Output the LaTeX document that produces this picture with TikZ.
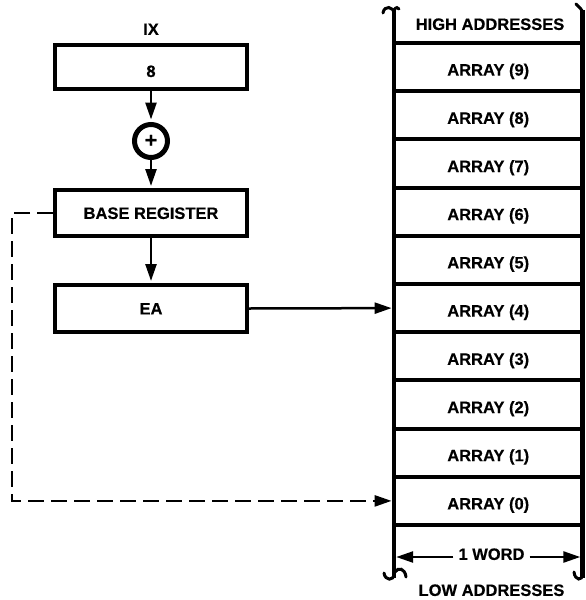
\documentclass[tikz,border=0pt]{standalone}
\usepackage{fontspec}
\setmainfont{Liberation Sans}[BoldFeatures={FakeBold=0.4}]
\usetikzlibrary{arrows.meta}
\tikzset{
  txt/.style={font=\fontsize{16.5}{19}\selectfont\bfseries},
  box/.style={txt, draw, line width=4pt, minimum width=192pt, inner sep=0pt, text height=11.8pt, text depth=0pt},
  cell/.style={txt, minimum width=188.5pt, minimum height=44pt, inner sep=0pt, text height=17pt, text depth=0pt},
  lbl/.style={txt, inner sep=0pt, text height=11.8pt, text depth=0pt},
  arr/.style={line width=2.5pt, -{Triangle[length=17pt,width=11pt]}},
  div/.style={line width=4pt},
  stem/.style={line width=4.5pt},
  hook/.style={line width=3pt, line cap=round},
  dsh/.style={line width=2pt, dash pattern=on 16pt off 7pt},
}
\begin{document}
\begin{tikzpicture}[x=1pt,y=-1pt]
\useasboundingbox (0,0) rectangle (586,600);
% left column
\node[lbl] (ix) at (151,29) {IX};
\node[box, minimum height=44pt, text height=20pt] (b8) at (151,67) {8};
\node[draw, circle, line width=5pt, minimum size=33pt, inner sep=0pt, font=\fontsize{21}{21}\selectfont\bfseries] (sum) at (151,141) {+};
\node[box, minimum height=46pt] (base) at (151,213) {BASE REGISTER};
\node[box, minimum height=47pt] (ea) at (151,308.5) {EA};
\draw[arr, shorten >=2.5pt] (b8.south) -- (sum.north);
\draw[arr, shorten >=2pt] (sum.south) -- (base.north);
\draw[arr, shorten >=2pt] (base.south) -- (ea.north);
% memory
\draw[stem] (394,10) -- (394,578);
\draw[stem] (582.5,10) -- (582.5,578);
\foreach \i in {0,...,10} \draw[div] (394,43+48.2*\i) -- (582.5,43+48.2*\i);
\foreach \i in {0,...,9} \node[cell] (m\i) at (488.25,500.9-48.2*\i) {ARRAY (\i)};
\node[lbl] (high) at (490,24) {HIGH ADDRESSES};
\node[lbl] (low) at (491.5,590) {LOW ADDRESSES};
% break hooks
\draw[hook] (394,14) .. controls (394,6) and (384,5) .. (383,13);
\draw[hook] (394,10) .. controls (396,7) and (398,7) .. (399,9);
\draw[hook] (582.5,14) .. controls (582.5,8) and (578,7) .. (576,4);
\draw[hook] (394,574) .. controls (394,581) and (385,581) .. (384,573);
\draw[hook] (395,572) .. controls (398,567) and (405,568) .. (406,577);
\draw[hook] (582.5,574) .. controls (582.5,581) and (575,581) .. (574,572);
% 1 word
\node[lbl, inner xsep=5pt] (word) at (491.5,554) {1 WORD};
\coordinate (wl) at (394,557);
\coordinate (wr) at (582.5,557);
\draw[arr, shorten >=2.2pt] (word.west |- wl) -- (wl);
\draw[arr, shorten >=2.2pt] (word.east |- wr) -- (wr);
% connectors
\draw[arr, shorten >=2.2pt] (ea.east) -- (m4.west);
\coordinate (dl) at (12,0);
\draw[dsh] (base.west) -| (dl |- m0.west) -- ([xshift=-16pt]m0.west);
\draw[arr, shorten >=2.2pt] ([xshift=-18pt]m0.west) -- (m0.west);
\end{tikzpicture}
\end{document}
